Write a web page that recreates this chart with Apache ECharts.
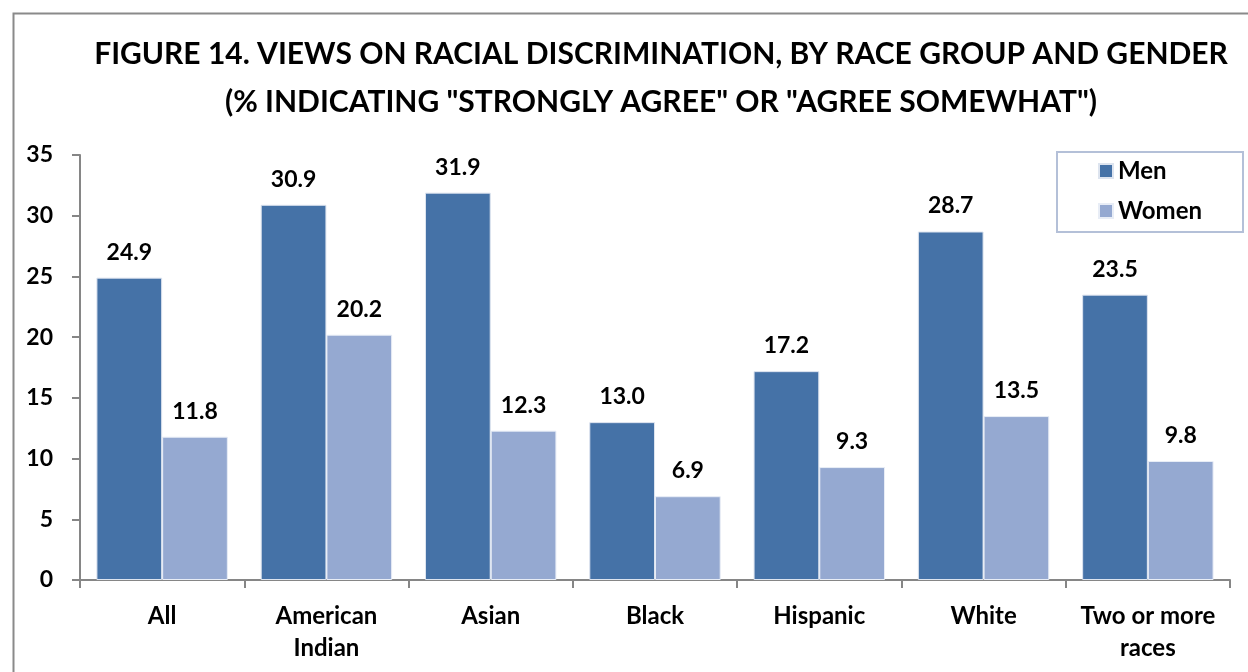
<!DOCTYPE html>
<html>
<head>
<meta charset="utf-8">
<script src="https://cdn.jsdelivr.net/npm/echarts@6/dist/echarts.min.js"></script>
<style>
html,body{margin:0;padding:0;background:#fff;}
#chart{width:1248px;height:672px;}
</style>
</head>
<body>
<div id="chart"></div>
<script>
const categories = ['All', 'American\nIndian', 'Asian', 'Black', 'Hispanic', 'White', 'Two or more\nraces'];
const menValues = [24.9, 30.9, 31.9, 13.0, 17.2, 28.7, 23.5];
const womenValues = [11.8, 20.2, 12.3, 6.9, 9.3, 13.5, 9.8];
const seriesNames = ['Men', 'Women'];
const titleText = 'FIGURE 14. VIEWS ON RACIAL DISCRIMINATION, BY RACE GROUP AND GENDER\n(% INDICATING "STRONGLY AGREE" OR "AGREE SOMEWHAT")';

const FONT = 'Lato';
const chart = echarts.init(document.getElementById('chart'), null, {renderer: 'canvas'});
const labelCommon = {
  show: true, position: 'top', distance: 14,
  fontFamily: FONT, fontWeight: 'bold', fontSize: 23, color: '#000',
  formatter: p => p.value.toFixed(1)
};
chart.setOption({
  backgroundColor: '#fff',
  animation: false,
  graphic: [{
    type: 'rect', left: 11, top: 11, z: -1,
    shape: {x: 0, y: 0, width: 1300, height: 700},
    style: {fill: 'none', stroke: '#8a8a8a', lineWidth: 2}
  }],
  title: {
    text: titleText, left: 656, top: 25, textAlign: 'center',
    textStyle: {fontFamily: FONT, fontWeight: 'bold', fontSize: 30, lineHeight: 48, color: '#000'}
  },
  legend: {
    orient: 'vertical', left: 1057, top: 152,
    padding: [7, 41, 9, 41],
    itemGap: 16, itemWidth: 14, itemHeight: 14, itemTextGap: 7,
    borderColor: '#b4c0d8', borderWidth: 2,
    icon: 'rect',
    textStyle: {fontFamily: FONT, fontWeight: 'bold', fontSize: 24, color: '#000', lineHeight: 22},
    data: seriesNames
  },
  grid: {left: 80, right: 18, top: 155, bottom: 92, containLabel: false},
  xAxis: {
    type: 'category', data: categories,
    axisLine: {lineStyle: {color: '#868686', width: 2}},
    axisTick: {show: true, length: 8, lineStyle: {color: '#868686', width: 2}},
    axisLabel: {fontFamily: FONT, fontWeight: 'bold', fontSize: 24, color: '#000', lineHeight: 32, margin: 20, interval: 0}
  },
  yAxis: {
    type: 'value', min: 0, max: 35, interval: 5,
    splitLine: {show: false},
    axisLine: {show: true, lineStyle: {color: '#868686', width: 2}},
    axisTick: {show: true, length: 8, lineStyle: {color: '#868686', width: 2}},
    axisLabel: {fontFamily: FONT, fontWeight: 'bold', fontSize: 23, color: '#000', margin: 27}
  },
  series: [
    {name: seriesNames[0], type: 'bar', data: menValues, barWidth: '40%', barGap: '0%',
     itemStyle: {color: '#4572A7', borderColor: '#dde4ef', borderWidth: 1}, label: labelCommon},
    {name: seriesNames[1], type: 'bar', data: womenValues, barWidth: '40%', barGap: '0%',
     itemStyle: {color: '#95A9D1', borderColor: '#e8edf6', borderWidth: 1}, label: labelCommon}
  ]
});
</script>
</body>
</html>
